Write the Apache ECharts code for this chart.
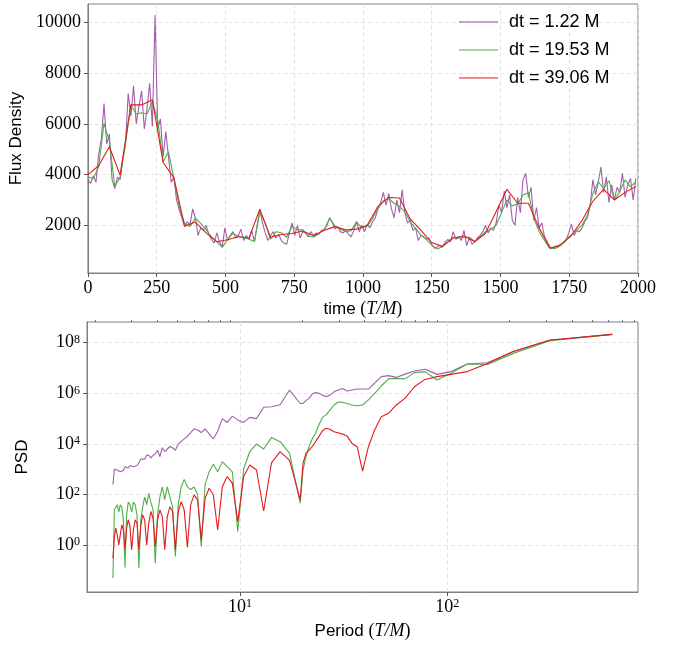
<!DOCTYPE html>
<html><head><meta charset="utf-8">
<script src="https://cdn.jsdelivr.net/npm/echarts@6/dist/echarts.min.js"></script>
<style>html,body{margin:0;padding:0;background:#fff}#c{width:684px;height:648px}</style>
</head><body><div id="c"></div>
<script>
// ---------- data ----------
const seriesNames = ['dt = 1.22 M', 'dt = 19.53 M', 'dt = 39.06 M'];
const seriesColors = ['#984ea3', '#4daf4a', '#e41a1c'];

// time steps (T/M) of the plotted samples
const purpleStep = 9.765625;
const greenStep = 19.53125;
const redStep = 39.0625;

const purpleFlux = [
 3800,3650,3950,3700,4800,5400,6800,5200,5600,3800,
 3450,3900,3800,4600,5200,7200,6300,7500,6000,6700,
 7300,5800,6600,7600,5900,10300,5800,6200,4700,5700,
 4700,3700,3900,3000,2600,2300,1950,2150,2000,2650,
 2300,1600,1900,1800,2000,1650,1450,1300,1700,1350,
 1150,1900,1400,1600,1750,1500,1600,1850,1400,1600,
 1450,1800,1350,2000,2600,2100,1700,1400,1600,1750,
 1500,1650,1400,1300,1250,1700,2100,1600,2000,1500,
 1750,1700,1550,1750,1600,1700,1650,1800,1850,2000,
 2300,2100,1850,1950,1750,1700,1800,1650,1550,1800,
 2150,1750,2000,1750,2050,1900,2150,2300,2650,2900,
 3300,2800,3250,2650,2300,3000,2500,3400,2500,2100,
 2200,1800,1900,1400,1600,1550,1450,1500,1250,1100,
 1150,1200,1150,1350,1450,1350,1750,1450,1550,1400,
 1800,1200,1500,1250,1350,1500,1600,1750,2000,1700,
 1900,1800,2100,2800,2500,3350,2700,3200,2200,2000,
 3100,2500,3800,4050,3100,3500,2200,2700,1900,2100,
 1550,1350,1150,1100,1150,1150,1250,1300,1400,1700,
 2050,1600,1800,1750,1900,2150,2300,2800,3800,3200,
 3700,4300,3300,3900,2900,3600,3000,3500,3300,4050,
 3100,3600,3850,3000,3850
];
const greenFlux = [
 3920,3850,4310,6020,5300,3520,3920,5230,6750,6390,
 6440,6390,6880,6150,4510,4900,3850,2740,2080,1950,
 2280,2080,1820,1550,1360,1130,1450,1680,1580,1530,
 1450,1360,2540,2080,1450,1750,1710,1530,1970,1820,
 1820,1580,1530,1680,1840,2280,1970,1840,1750,1790,
 2140,1900,1970,2280,2670,2970,3050,2870,2740,2540,
 2140,1880,1620,1450,1220,1070,1160,1360,1530,1490,
 1530,1530,1360,1530,1750,1840,2010,2500,3000,2760,
 2840,3200,3290,2280,1750,1390,1090,1090,1200,1450,
 1620,1820,2010,2410,3260,3720,3460,3760,3000,3330,
 3790,3520,3720
];
const redFlux = [
 4000,4350,5100,3980,6750,6750,6950,4480,3880,1960,
 2130,1700,1350,1430,1550,1500,2640,1530,1640,1680,
 1780,1590,1810,1950,1820,1850,2000,2750,3100,3080,
 2250,1800,1320,1170,1500,1580,1360,1680,2550,3420,
 2870,2870,1900,1100,1230,1600,2200,2950,3420,3000,
 3300,3530
];

// PSD vs period (T/M)
const psdPeriod = [
 625,312.5,208.3,156.3,125,104.2,89.29,78.13,69.44,62.5,
 56.82,52.08,48.08,44.64,41.67,39.06,36.76,34.72,32.89,31.25,
 29.76,28.41,27.17,26.04,25,24.04,23.15,22.32,21.55,20.83,
 20.16,19.53,
 17.36,15.63,14.2,13.02,12.02,11.16,10.42,9.766,9.191,8.681,
 8.224,7.813,7.44,7.102,6.793,6.51,6.25,6.01,5.787,5.58,
 5.388,5.208,5.04,4.883,4.735,4.596,4.464,4.34,4.223,4.112,
 4.006,3.906,3.811,3.72,3.634,3.551,3.472,3.397,3.324,3.255,
 3.189,3.125,3.064,3.005,2.948,2.894,2.841,2.79,2.741,2.694,
 2.648,2.604,2.561,2.52,2.48,2.441
];
const psdPurple = [
 2.14e8,1.29e8,4.47e7,1.62e7,1.45e7,7.24e6,5.62e6,8.91e6,7.59e6,5.75e6,
 4.27e6,5.01e6,4.57e6,2.51e6,1.48e6,1.48e6,1.48e6,1.35e6,1.23e6,1.55e6,
 1.35e6,1.15e6,8.51e5,7.41e5,8.51e5,1.0e6,1.07e6,9.33e5,6.31e5,5.13e5,
 3.98e5,3.98e5,
 1.35e6,3.55e5,2.95e5,2.82e5,1.0e5,1.12e5,7.08e4,8.91e4,1.26e5,7.08e4,
 1.0e5,3.16e4,1.58e4,2.51e4,3.98e4,2.82e4,3.55e4,3.98e4,2.82e4,2.0e4,
 1.58e4,1.26e4,1.0e4,5.62e3,7.08e3,7.94e3,6.31e3,5.01e3,7.08e3,3.16e3,
 5.62e3,3.98e3,3.55e3,2.82e3,3.55e3,3.55e3,2.51e3,2.24e3,2.51e3,1.78e3,
 1.41e3,1.58e3,1.26e3,1.12e3,1.41e3,1.12e3,1.0e3,1.26e3,891,1000,
 794,708,933,794,1000,251
];
const psdGreen = [
 2.14e8,1.2e8,3.8e7,1.38e7,1.45e7,6.17e6,3.39e6,7.24e6,6.61e6,3.72e6,
 3.89e6,3.72e6,1.95e6,1.0e6,5.5e5,3.47e5,3.24e5,3.47e5,3.98e5,4.47e5,
 4.57e5,3.47e5,2.19e5,1.41e5,1.12e5,5.62e4,2.63e4,1.58e4,7.94e3,3.16e3,
 933,45.7,
 4.27e3,1.23e4,1.78e4,6.31e3,1.0e4,5.01e3,1.0e3,3.47,794,1.26e3,
 2.0e3,794,1.58e3,794,251,0.89,100,200,158,200,
 398,200,39.8,0.355,31.6,79.4,200,63.1,200,79.4,
 15.8,0.195,25.1,50.1,112,39.8,79.4,31.6,10,0.123,
 15.8,39.8,50.1,20,39.8,50.1,15.8,0.132,10,31.6,
 39.8,20,39.8,31.6,25.1,0.05
];
const psdRed = [
 2.14e8,1.26e8,4.47e7,1.51e7,7.24e6,5.62e6,4.57e6,3.55e6,1.82e6,6.31e5,
 3.47e5,1.62e5,1.2e5,3.55e4,7.76e3,851,7.76e3,1.05e4,2.04e4,2.45e4,
 2.75e4,3.02e4,3.8e4,4.17e4,3.31e4,1.95e4,1.23e4,7.76e3,5.75e3,4.27e3,
 1.74e3,61.7,
 2.24e3,5.01e3,1.78e3,22.4,933,1.48e3,513,8.51,282,513,
 204,3.98,97.7,178,70.8,1.62,61.7,97.7,38.9,0.83,
 24.5,52.5,21.4,0.66,21.4,33.1,13.5,0.66,13.5,24.5,
 10,0.89,11.5,21.4,7.41,1.02,10,15.8,5.5,0.66,
 7.41,10,3.98,0.66,5.5,10,4.68,0.66,3.98,6.31,
 2.57,1.02,2.57,4.68,2.19,0.30
];

// tick labels
const fluxTicks = [2000, 4000, 6000, 8000, 10000];
const psdTicks = [1, 1e2, 1e4, 1e6, 1e8];
const periodTicks = [10, 100];
const periodMinorTicks = [2,3,4,5,6,7,8,9,20,30,40,50,60,70,80,90,200,300,400,500,600,700,800];

// ---------- chart ----------
const SERIF = 'Liberation Serif';
const SANS = 'Liberation Sans';
const frame = '#808080';
const gridLine = { show: true, lineStyle: { color: '#e3e3e3', width: 1, type: [4, 3] } };
const tick = { show: true, inside: false, length: 4, lineStyle: { color: '#555', width: 1 } };
const supRich = {
  b: { fontFamily: SERIF, fontSize: 18, color: '#000' },
  e: { fontFamily: SERIF, fontSize: 12, color: '#000', verticalAlign: 'top' }
};
const powLabel = v => '{b|10}{e|' + Math.round(Math.log10(v)) + '}';
const plain = v => String(v);
const nameRich = {
  s: { fontFamily: SANS, fontSize: 17, color: '#000' },
  m: { fontFamily: SERIF, fontSize: 18, color: '#000' },
  i: { fontFamily: SERIF, fontSize: 18, fontStyle: 'italic', color: '#000' }
};
const lineIcon = 'path://M0,0 M0,6.4 L40,6.4 L40,7.6 L0,7.6 Z M40,14';

const toPairs = (step, arr) => arr.map((v, i) => [i * step, v]);
const zipPSD = arr => arr.map((v, i) => [psdPeriod[i], v]);

const chart = echarts.init(document.getElementById('c'));
chart.setOption({
  animation: false,
  backgroundColor: '#fff',
  grid: [
    { left: 87, top: 4, width: 551, height: 269, show: true, borderColor: frame, borderWidth: 1, containLabel: false },
    { left: 87, top: 322, width: 551, height: 270, show: true, borderColor: frame, borderWidth: 1, containLabel: false }
  ],
  legend: {
    orient: 'vertical', left: 459, top: 13, padding: 0,
    itemWidth: 39, itemHeight: 14, itemGap: 10,
    icon: lineIcon,
    data: seriesNames,
    textStyle: { fontFamily: SANS, fontSize: 18, color: '#000', padding: [0, 0, 0, 6] }
  },
  xAxis: [
    {
      gridIndex: 0, type: 'value', min: 0, max: 2000, interval: 250,
      axisLine: { show: true, onZero: false, lineStyle: { color: frame } },
      axisTick: tick,
      axisLabel: { formatter: plain, fontFamily: SERIF, fontSize: 18, color: '#000', margin: 6 },
      splitLine: gridLine,
      name: '{s|time }{m|(}{i|T/M}{m|)}', nameLocation: 'middle', nameGap: 27,
      nameTextStyle: { rich: nameRich }
    },
    {
      gridIndex: 1, type: 'log', logBase: 10, min: 1.83, max: 832,
      axisLine: { show: true, onZero: false, lineStyle: { color: frame } },
      axisTick: Object.assign({}, tick, { customValues: periodTicks }),
      axisLabel: { customValues: periodTicks, formatter: powLabel, rich: supRich, margin: 6 },
      splitLine: gridLine,
      minorTick: { show: false },
      name: '{s|Period }{m|(}{i|T/M}{m|)}', nameLocation: 'middle', nameGap: 30,
      nameTextStyle: { rich: nameRich }
    },
    {
      gridIndex: 1, type: 'log', logBase: 10, min: 1.83, max: 832,
      axisLine: { show: false },
      axisTick: { show: true, inside: false, length: 2, customValues: periodMinorTicks, lineStyle: { color: '#555', width: 0.8 } },
      axisLabel: { show: false },
      splitLine: { show: false }
    }
  ],
  yAxis: [
    {
      gridIndex: 0, type: 'value', min: 120, max: 10730,
      axisLine: { show: true, onZero: false, lineStyle: { color: frame } },
      axisTick: Object.assign({}, tick, { customValues: fluxTicks }),
      axisLabel: { customValues: fluxTicks, formatter: plain, fontFamily: SERIF, fontSize: 18, color: '#000', margin: 7 },
      splitLine: gridLine,
      name: 'Flux Density', nameLocation: 'middle', nameRotate: 90, nameGap: 53,
      nameTextStyle: { fontFamily: SANS, fontSize: 17, color: '#000' }
    },
    {
      gridIndex: 1, type: 'log', logBase: 10, min: 0.0141, max: 6.6e8,
      axisLine: { show: true, onZero: false, lineStyle: { color: frame } },
      axisTick: Object.assign({}, tick, { customValues: psdTicks }),
      axisLabel: { customValues: psdTicks, formatter: powLabel, rich: supRich, margin: 7 },
      splitLine: gridLine,
      name: 'PSD', nameLocation: 'middle', nameRotate: 90, nameGap: 56,
      nameTextStyle: { fontFamily: SANS, fontSize: 17, color: '#000' }
    }
  ],
  series: [
    { name: seriesNames[0], type: 'line', xAxisIndex: 0, yAxisIndex: 0, data: toPairs(purpleStep, purpleFlux),
      symbol: 'none', color: seriesColors[0], lineStyle: { width: 1.1, opacity: 0.9 } },
    { name: seriesNames[1], type: 'line', xAxisIndex: 0, yAxisIndex: 0, data: toPairs(greenStep, greenFlux),
      symbol: 'none', color: seriesColors[1], lineStyle: { width: 1.1 } },
    { name: seriesNames[2], type: 'line', xAxisIndex: 0, yAxisIndex: 0, data: toPairs(redStep, redFlux),
      symbol: 'none', color: seriesColors[2], lineStyle: { width: 1.1 } },
    { name: seriesNames[0], type: 'line', xAxisIndex: 1, yAxisIndex: 1, data: zipPSD(psdPurple),
      symbol: 'none', color: seriesColors[0], lineStyle: { width: 1.1, opacity: 0.9 } },
    { name: seriesNames[1], type: 'line', xAxisIndex: 1, yAxisIndex: 1, data: zipPSD(psdGreen),
      symbol: 'none', color: seriesColors[1], lineStyle: { width: 1.1 } },
    { name: seriesNames[2], type: 'line', xAxisIndex: 1, yAxisIndex: 1, data: zipPSD(psdRed),
      symbol: 'none', color: seriesColors[2], lineStyle: { width: 1.1 } }
  ]
});
</script>
</body></html>
